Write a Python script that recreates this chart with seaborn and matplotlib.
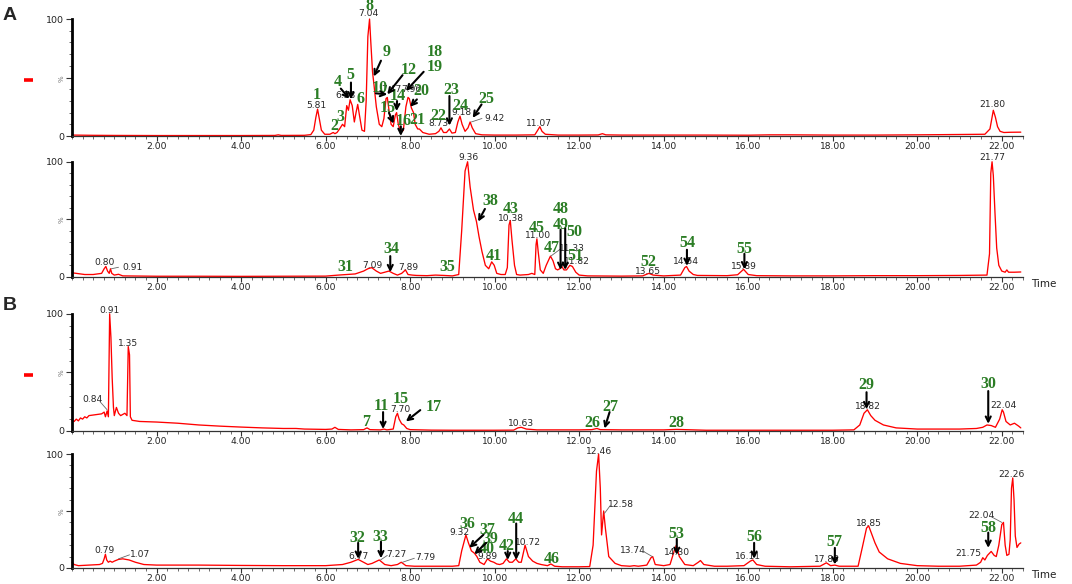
import matplotlib
matplotlib.use('Agg')
import matplotlib.pyplot as plt
import seaborn as sns
import pandas as pd
from matplotlib.lines import Line2D
from matplotlib.ticker import MultipleLocator, FixedLocator, FuncFormatter

sns.set_theme(style='white')
plt.rcParams['font.family'] = ['DejaVu Sans']

# ---------------- chromatogram traces (time [min], relative intensity [%]) ----------------
a1_points = [(0.0,0.8),(0.5,0.6),(1.0,0.5),(2.0,0.4),(3.0,0.4),(4.0,0.4),(4.8,0.5),(4.88,1.0),(4.95,0.5),
    (5.5,0.6),(5.65,1.2),(5.72,5),(5.77,16),(5.81,23),(5.85,15),(5.9,5),(5.98,1.5),(6.1,1.5),(6.18,3),(6.22,2),
    (6.27,3),(6.33,6),(6.4,10),(6.45,8),(6.5,26),(6.54,22),(6.58,31),(6.63,26),(6.68,12),(6.72,20),(6.76,27),
    (6.8,18),(6.86,5),(6.92,4),(6.96,30),(7.0,85),(7.04,100),(7.07,80),(7.11,55),(7.15,42),(7.2,25),(7.27,10),
    (7.33,8),(7.38,15),(7.43,32),(7.46,33),(7.5,22),(7.55,10),(7.6,8),(7.65,18),(7.68,20),(7.72,10),(7.78,3),
    (7.84,5),(7.9,25),(7.95,33),(7.98,32),(8.03,24),(8.08,20),(8.12,10),(8.18,6),(8.22,6),(8.3,3),(8.45,1.5),
    (8.6,2),(8.68,4),(8.73,7),(8.79,3),(8.86,3),(8.93,6),(8.99,2.5),(9.07,3),(9.13,12),(9.18,17),(9.23,10),
    (9.3,4),(9.37,7),(9.42,12),(9.47,7),(9.55,2),(9.7,1),(10.0,0.8),(10.5,0.8),(10.95,1),(11.02,5),(11.07,8),
    (11.12,4),(11.2,1.5),(11.5,0.8),(12.0,0.8),(12.45,0.9),(12.55,2),(12.63,1),(13.0,0.8),(14.0,0.8),(15.0,0.8),
    (16.0,0.7),(16.5,1.0),(17.0,1.0),(17.5,0.9),(18.0,0.8),(19.0,0.8),(20.0,1.0),(21.0,1.3),(21.6,1.5),
    (21.72,6),(21.77,16),(21.80,22),(21.85,16),(21.9,8),(21.96,4),(22.05,3),(22.2,3.2),(22.45,3.3)]

a2_points = [(0.0,3.5),(0.1,3),(0.3,2),(0.5,2),(0.7,3),(0.76,7),(0.80,9),(0.84,5),(0.88,3),(0.91,7),(0.94,3),
    (1.0,1.5),(1.1,2.2),(1.2,0.8),(2.0,0.5),(3.0,0.5),(4.0,0.4),(5.0,0.5),(6.0,0.6),(6.3,1.5),(6.5,2),(6.7,2.5),
    (6.9,5),(7.0,7),(7.09,8),(7.2,5),(7.3,3),(7.4,4),(7.5,5),(7.6,3),(7.7,1.5),(7.8,3),(7.89,6),(7.95,2),
    (8.05,1.5),(8.15,1.2),(8.4,1),(8.6,1.5),(8.8,1.2),(9.0,0.8),(9.15,2),(9.22,40),(9.30,92),(9.36,100),
    (9.42,78),(9.50,58),(9.57,48),(9.63,35),(9.70,22),(9.78,10),(9.86,7),(9.93,13),(9.99,10),(10.05,3),
    (10.15,2),(10.25,2),(10.30,8),(10.34,45),(10.37,49),(10.41,32),(10.47,10),(10.52,2),(10.6,1.5),(10.8,2),
    (10.88,3),(10.95,2),(10.98,28),(11.00,33),(11.03,22),(11.08,6),(11.15,3),(11.22,10),(11.32,18),(11.38,14),
    (11.44,7),(11.49,6),(11.54,7),(11.59,9),(11.64,6),(11.70,6),(11.78,10),(11.84,9),(11.92,4),(12.0,1.5),
    (12.2,0.8),(13.0,0.6),(13.5,0.8),(13.65,3),(13.75,1.5),(14.0,0.8),(14.4,1.5),(14.5,8),(14.54,9),(14.6,5),
    (14.7,2),(14.8,1.2),(15.5,1),(15.75,1.8),(15.89,6.5),(16.0,2),(16.2,1),(17.0,0.8),(18.0,0.8),(19.0,1),
    (20.0,1),(21.0,1.2),(21.65,1.5),(21.71,20),(21.74,90),(21.77,100),(21.80,88),(21.84,55),(21.88,25),
    (21.93,10),(22.0,5),(22.08,4),(22.12,6),(22.16,4),(22.3,4),(22.45,4.2)]

b1_points = [(0.0,9),(0.05,8),(0.1,10),(0.15,8.5),(0.2,11),(0.25,10),(0.3,12),(0.35,11),(0.4,13),(0.5,13.5),
    (0.6,14),(0.7,14.5),(0.76,16),(0.79,12),(0.83,17),(0.86,12),(0.89,100),(0.92,80),(0.95,45),(0.98,20),
    (1.0,13),(1.05,20),(1.1,15),(1.15,13),(1.2,14),(1.25,15),(1.3,13),(1.33,72),(1.36,65),(1.38,12),(1.42,9),
    (1.6,8),(2.0,7.5),(2.5,6.5),(3.0,5),(3.5,4),(4.0,3.2),(4.5,2.5),(5.0,2),(5.3,2),(5.5,1.5),(6.0,1.2),
    (6.15,1.5),(6.22,3),(6.3,1.2),(6.6,0.8),(6.9,1),(6.98,2.5),(7.05,1),(7.3,0.8),(7.38,1.5),(7.45,0.8),
    (7.6,1.5),(7.66,12),(7.70,15),(7.74,10),(7.80,6),(7.85,5),(7.92,2),(8.0,1),(8.5,0.6),(9.0,0.5),(10.0,0.5),
    (10.45,0.6),(10.55,2.5),(10.63,3),(10.75,1.5),(11.0,0.8),(12.0,0.8),(12.3,1),(12.42,2),(12.5,1),(13.0,0.8),
    (14.0,0.8),(14.3,1.2),(15.0,0.5),(16.0,0.5),(17.0,0.5),(18.0,0.5),(18.5,0.8),(18.64,5),(18.74,15),
    (18.82,18),(18.9,13),(19.0,9),(19.2,5),(19.5,2.5),(20.0,1.5),(21.0,1.5),(21.4,2),(21.55,3),(21.65,5),
    (21.75,4.5),(21.85,3),(21.95,10),(22.01,18),(22.04,16),(22.1,8),(22.2,5),(22.3,6.5),(22.4,4),(22.45,2.5)]

b2_points = [(0.0,5),(0.05,3),(0.15,2),(0.4,2.5),(0.65,3),(0.72,4),(0.76,8),(0.79,12),(0.82,7),(0.86,5),
    (0.9,6),(0.95,5),(1.0,6),(1.1,7.5),(1.2,8),(1.35,7),(1.5,5),(1.7,3),(2.0,2.5),(3.0,2.5),(4.0,2.2),(5.0,2),
    (6.0,2),(6.4,3),(6.6,5),(6.77,7.5),(6.9,5),(7.0,3),(7.1,4),(7.27,7),(7.4,3),(7.55,2),(7.7,3),(7.79,5),
    (7.9,2),(8.1,1.5),(9.0,1.5),(9.15,2),(9.22,15),(9.32,29),(9.38,22),(9.45,15),(9.52,13),(9.58,10),(9.65,5),
    (9.75,3),(9.83,8),(9.90,6),(9.98,5),(10.05,3.5),(10.12,3),(10.2,4),(10.28,8),(10.35,5),(10.42,5),(10.5,8),
    (10.57,5),(10.63,5),(10.72,20),(10.8,10),(10.9,6),(11.0,4),(11.1,3),(11.25,2),(11.33,3.5),(11.42,1.5),
    (11.6,1),(12.0,1),(12.25,1.2),(12.33,20),(12.41,85),(12.46,100),(12.50,70),(12.53,29),(12.58,50),
    (12.62,35),(12.70,10),(12.85,4),(13.0,2),(13.2,1.5),(13.3,2),(13.4,1.5),(13.6,2.5),(13.70,9),(13.74,10),
    (13.8,3),(14.0,2),(14.15,3),(14.25,15),(14.30,20),(14.37,10),(14.5,3),(14.7,2),(14.82,5),(14.87,6.5),
    (14.95,3),(15.2,1.5),(15.5,1.5),(15.9,2),(16.05,6),(16.11,7),(16.2,3),(16.4,1.5),(17.0,1),(17.7,1.5),
    (17.85,4.5),(17.95,2),(18.05,2.5),(18.15,1.5),(18.6,1.5),(18.70,18),(18.80,35),(18.85,37),(18.92,30),
    (19.0,22),(19.1,14),(19.3,8),(19.6,4),(20.0,2),(20.5,1.5),(21.0,1.5),(21.4,2.5),(21.5,5),(21.55,9),
    (21.6,7),(21.66,11),(21.75,14.5),(21.82,11),(21.87,10),(21.93,20),(22.00,38),(22.04,40),(22.08,20),
    (22.12,11),(22.17,12),(22.20,25),(22.23,70),(22.26,79),(22.29,60),(22.32,28),(22.36,18),(22.41,21),(22.45,22)]

x_tick_values = [2, 4, 6, 8, 10, 12, 14, 16, 18, 20, 22]
y_tick_labels = ['0', '%', '100']

# ---------------- annotations ----------------
# retention-time labels: (text, time, intensity)
a1_rt = [('5.81',5.79,26),('6.58',6.47,35),('7.04',7.01,104.5),('7.47',7.55,40),('7.96',8.04,40),
         ('8.73',8.67,10.3),('9.18',9.22,20.4),('9.42',9.99,15.2),('11.07',11.04,10.6),('21.80',21.77,27)]
a2_rt = [('0.80',0.76,12.8),('0.91',1.44,8.3),('7.09',7.10,10),('7.89',7.95,8),('9.36',9.37,104),
         ('10.38',10.39,51),('11.00',11.03,35.6),('11.33',11.82,24.6),('11.82',11.94,13),('13.65',13.63,4.5),
         ('14.54',14.53,13),('15.89',15.90,9.4),('21.77',21.77,104)]
b1_rt = [('0.91',0.89,103),('1.35',1.33,75),('0.84',0.48,27),('7.70',7.76,18),('10.63',10.62,6.3),
         ('18.82',18.84,20.6),('22.04',22.03,22)]
b2_rt = [('0.79',0.76,15.6),('1.07',1.61,12),('6.77',6.78,10),('7.27',7.68,12),('7.79',8.35,9),
         ('9.32',9.16,30.7),('9.89',9.82,9.9),('10.72',10.79,22.6),('12.46',12.47,102),('12.58',12.99,56),
         ('13.74',13.27,15.6),('14.30',14.31,13.6),('16.11',16.0,10),('17.85',17.86,7),('18.85',18.85,39),
         ('21.75',21.2,12.8),('22.04',21.52,46),('22.26',22.24,82)]

# compound numbers: (text, time, intensity)
a1_num = [('1',5.79,34.8),('2',6.21,8.3),('3',6.34,16.4),('4',6.28,46.5),('5',6.58,52),('6',6.82,31.9),
          ('8',7.04,111),('9',7.45,71.5),('10',7.29,41.4),('12',7.96,56.6),('14',7.70,34.2),('15',7.46,24),
          ('16',7.84,12.6),('18',8.59,71.5),('19',8.59,58.6),('20',8.27,38.5),('21',8.17,14),('22',8.67,17.5),
          ('23',8.97,39.4),('24',9.18,26),('25',9.81,32)]
a2_num = [('31',6.46,8.5),('34',7.55,24),('35',8.89,8.5),('38',9.89,66),('41',9.99,18.5),('43',10.38,59),
          ('45',11.0,42.5),('47',11.35,25),('48',11.56,59),('49',11.56,45),('50',11.88,39),('51',11.9,18.5),
          ('52',13.63,13),('54',14.55,29),('55',15.91,24)]
b1_num = [('7',6.97,7.7),('11',7.31,21),('15',7.79,27),('17',8.56,20.5),('26',12.32,7),('27',12.73,20.5),
          ('28',14.3,6.3),('29',18.79,39),('30',21.68,40)]
b2_num = [('32',6.74,26),('33',7.29,27),('36',9.36,39),('37',9.82,33),('39',9.89,25.5),('40',9.82,17),
          ('42',10.29,19.7),('44',10.51,43),('46',11.35,7.5),('53',14.31,30),('56',16.14,27),('57',18.05,22.7),
          ('58',21.68,35.5)]

# arrows: (from_t, from_i, to_t, to_i)
a1_arr = [(6.36,40.5,6.56,31.9),(6.6,45.7,6.6,31.3),(7.31,64.4,7.14,50.9),(7.19,36.5,7.46,35.6),
          (7.82,52,7.46,35.6),(7.69,29.9,7.68,21.3),(7.5,19.8,7.61,10.6),(7.78,8.3,7.78,0),
          (8.32,54.9,7.9,38.5),(8.16,31.3,8.0,25),(8.93,34.2,8.93,8.9),(9.69,27,9.48,15.5)]
a2_arr = [(7.53,18,7.53,4),(9.77,59,9.61,48),(11.56,41,11.56,6),(11.67,42,11.67,6),
          (14.55,23.5,14.55,9.5),(15.91,20,15.91,6.5)]
b1_arr = [(7.36,16,7.36,1.5),(8.24,17.7,7.9,8),(12.72,16,12.6,2),(18.8,33,18.8,18.5),(21.68,34,21.68,6)]
b2_arr = [(6.77,22,6.77,8),(7.31,23,7.31,8.5),(9.73,29,9.40,17.7),(9.80,22,9.52,12),(10.31,14.8,10.31,7),
          (10.51,39,10.51,7),(14.31,25.5,14.31,11.4),(16.14,22,16.14,8),(18.05,17.6,18.05,3),(21.68,31,21.68,17.6)]

# thin leader lines from peak to its label: (from_t, from_i, to_t, to_i)
a1_lead = [(9.45,12,9.70,15)]
a2_lead = [(0.93,7,1.10,8.3),(11.33,18,11.55,24)]
b1_lead = [(0.83,18,0.66,25)]
b2_lead = [(1.1,8,1.36,11.5),(7.3,7,7.46,11),(7.82,5,8.1,8.5),(12.6,48,12.74,55),(13.73,10,13.52,14.5),
           (22.0,40,21.75,45)]

GREEN = '#2b7d25'
panels = [
    (a1_points, a1_rt, a1_num, a1_arr, a1_lead, False),
    (a2_points, a2_rt, a2_num, a2_arr, a2_lead, True),
    (b1_points, b1_rt, b1_num, b1_arr, b1_lead, False),
    (b2_points, b2_rt, b2_num, b2_arr, b2_lead, True),
]
rects = [(0.0672, 0.7671, 0.887, 0.2003), (0.0672, 0.526, 0.887, 0.197),
         (0.0672, 0.2623, 0.887, 0.2003), (0.0672, 0.0275, 0.887, 0.195)]

fig = plt.figure(figsize=(10.72, 5.84), dpi=100)
fig.patch.set_facecolor('white')

for (pts, rts, nums, arrs, leads, show_time), rect in zip(panels, rects):
    ax = fig.add_axes(rect)
    ax.set_facecolor('white')
    df = pd.DataFrame(pts, columns=['time', 'intensity'])
    sns.lineplot(data=df, x='time', y='intensity', ax=ax, color='#ff0000', lw=0.95,
                 estimator=None, sort=False, clip_on=False)
    ax.set_xlim(0, 22.5)
    ax.set_ylim(0, 100)
    ax.set_xlabel('')
    ax.set_ylabel('')
    for s in ['top', 'right']:
        ax.spines[s].set_visible(False)
    ax.spines['left'].set_linewidth(2.0)
    ax.spines['left'].set_color('black')
    ax.spines['bottom'].set_linewidth(0.9)
    ax.spines['bottom'].set_color('#333333')
    ax.xaxis.set_major_locator(FixedLocator(x_tick_values))
    ax.xaxis.set_major_formatter(FuncFormatter(lambda v, p: f'{v:.2f}'))
    ax.xaxis.set_minor_locator(MultipleLocator(0.25))
    ax.set_yticks([0, 50, 100])
    ax.set_yticklabels(y_tick_labels)
    ax.yaxis.set_minor_locator(MultipleLocator(10))
    ax.tick_params(axis='x', which='major', bottom=True, length=3.5, width=0.8, color='#333333',
                   labelsize=6.6, pad=1.0, labelcolor='#222222')
    ax.tick_params(axis='x', which='minor', bottom=True, length=2.0, width=0.6, color='#555555')
    ax.tick_params(axis='y', which='major', left=True, length=4, width=0.8, color='#333333',
                   labelsize=6.8, pad=1.5, labelcolor='#222222')
    ax.tick_params(axis='y', which='minor', left=True, length=2, width=0.6, color='#555555')
    lab = ax.get_yticklabels()[1]
    lab.set_rotation(90)
    lab.set_fontsize(5)
    lab.set_color('#777777')
    ax.grid(False)

    for txt, t, i in rts:
        ax.text(t, i, txt, ha='center', va='center', fontsize=6.6, color='#262626', zorder=3, clip_on=False)
    for t0, i0, t1, i1 in leads:
        ax.annotate('', xy=(t1, i1), xytext=(t0, i0), annotation_clip=False,
                    arrowprops=dict(arrowstyle='-', color='#666666', lw=0.6, shrinkA=0, shrinkB=0), zorder=3)
    for txt, t, i in nums:
        ax.text(t, i, txt, ha='center', va='center', fontsize=11.5, fontweight='bold',
                family=['Liberation Serif', 'DejaVu Serif'], color=GREEN, zorder=5, clip_on=False)
    for t0, i0, t1, i1 in arrs:
        ax.annotate('', xy=(t1, i1), xytext=(t0, i0), annotation_clip=False, zorder=6,
                    arrowprops=dict(arrowstyle='->', color='black', lw=1.5, mutation_scale=9,
                                    shrinkA=0, shrinkB=0))
    if show_time:
        ax.text(1.0085, -0.06, 'Time', transform=ax.transAxes, ha='left', va='center',
                fontsize=7.5, color='#222222')

# panel letters and the small red trace markers
fig.text(10 / 1072, 1 - 15 / 584, 'A', ha='center', va='center', fontsize=14, fontweight='bold',
         family=['Liberation Sans', 'DejaVu Sans'])
fig.text(10 / 1072, 1 - 306 / 584, 'B', ha='center', va='center', fontsize=14, fontweight='bold',
         family=['Liberation Sans', 'DejaVu Sans'])
for ypix in (80, 375):
    fig.add_artist(Line2D([24 / 1072, 33 / 1072], [1 - ypix / 584] * 2, color='#ff0000', lw=2.6,
                          solid_capstyle='butt', transform=fig.transFigure))

fig.savefig('out.png', dpi=100, facecolor='white')
